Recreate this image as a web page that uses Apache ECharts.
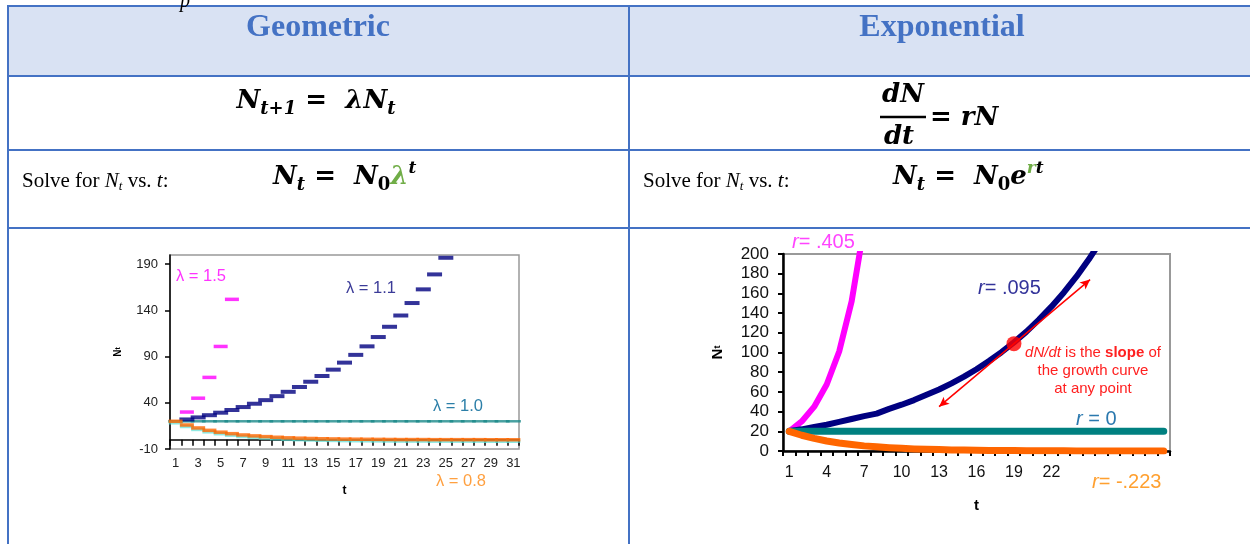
<!DOCTYPE html>
<html>
<head>
<meta charset="utf-8">
<script src="https://cdn.jsdelivr.net/npm/echarts@6/dist/echarts.min.js"></script>
<style>
html, body { margin: 0; padding: 0; background: #fff; }
#main { width: 1250px; height: 544px; }
</style>
</head>
<body>
<div id="main"></div>
<script>
// time steps (both charts)
var tSteps = [1, 2, 3, 4, 5, 6, 7, 8, 9, 10, 11, 12, 13, 14, 15, 16, 17, 18, 19, 20, 21, 22, 23, 24, 25, 26, 27, 28, 29, 30, 31];

// geometric chart (dash per step)
var geo15 = [20, 30, 45, 67.5, 101, 152];
var geo11 = [20, 22, 24.2, 26.6, 29.3, 32.2, 35.4, 39, 42.9, 47.2, 51.9, 57.1, 62.8, 69, 75.9, 83.5, 91.9, 101.1, 111.2, 122.3, 134.5, 148, 162.8, 179, 197];
var geo10 = [20, 20, 20, 20, 20, 20, 20, 20, 20, 20, 20, 20, 20, 20, 20, 20, 20, 20, 20, 20, 20, 20, 20, 20, 20, 20, 20, 20, 20, 20, 20];
var geo08 = [20, 16, 12.8, 10.2, 8.2, 6.6, 5.2, 4.2, 3.4, 2.7, 2.1, 1.7, 1.4, 1.1, 0.9, 0.7, 0.6, 0.5, 0.4, 0.3, 0.2, 0.2, 0.2, 0.1, 0.1, 0.1, 0.1, 0.1, 0, 0, 0];
var geoYLabels = [-10, 40, 90, 140, 190];
var geoXLabels = [1, 3, 5, 7, 9, 11, 13, 15, 17, 19, 21, 23, 25, 27, 29, 31];

// exponential chart (continuous curves)
var exp405 = [20, 30, 45, 67.5, 101, 152, 228];
var exp095 = [20, 22, 24.5, 26.6, 29.5, 32.5, 35.4, 38, 42.8, 47, 51.7, 57, 62.5, 68.7, 75.5, 83, 91.3, 100.3, 110.3, 121.2, 133.3, 146.5, 161, 177, 194.6, 214];
var exp0 = [20, 20, 20, 20, 20, 20, 20, 20, 20, 20, 20, 20, 20, 20, 20, 20, 20, 20, 20, 20, 20, 20, 20, 20, 20, 20, 20, 20, 20, 20, 20];
var expNeg = [20, 16, 12.8, 10.2, 8.2, 6.6, 5.2, 4.2, 3.4, 2.7, 2.1, 1.7, 1.4, 1.1, 0.9, 0.7, 0.6, 0.5, 0.4, 0.3, 0.2, 0.2, 0.2, 0.1, 0.1, 0.1, 0.1, 0.1, 0, 0, 0];
var expXLabels = [1, 4, 7, 10, 13, 16, 19, 22];
var slopePoint = [19, 109];
var slopeArrow = [[13, 45], [25.1, 174]];

var stepTicks = tSteps.map(function (t) { return t - 0.5; }).concat([31.5]);

function pairs(vals) {
    return vals.map(function (v, i) { return [tSteps[i], v]; });
}

var chart = echarts.init(document.getElementById('main'), null, { renderer: 'canvas' });

var BLUE = '#4472C4';
var sans = 'Liberation Sans, Arial, sans-serif';
var serif = 'Liberation Serif, Times New Roman, serif';
var math = 'DejaVu Serif, serif';

// rich styles for the formulas
var mathRich = {
    m: { fontFamily: math, fontWeight: 'bold', fontStyle: 'italic', fontSize: 26, lineHeight: 34, fill: '#000' },
    u: { fontFamily: math, fontWeight: 'bold', fontSize: 26, lineHeight: 34, fill: '#000' },
    s: { fontFamily: math, fontWeight: 'bold', fontStyle: 'italic', fontSize: 18, lineHeight: 14, verticalAlign: 'bottom', fill: '#000' },
    s0: { fontFamily: math, fontWeight: 'bold', fontSize: 18, lineHeight: 14, verticalAlign: 'bottom', fill: '#000' },
    sup: { fontFamily: math, fontWeight: 'bold', fontStyle: 'italic', fontSize: 17, lineHeight: 16, verticalAlign: 'top', fill: '#000' },
    gsup: { fontFamily: math, fontWeight: 'bold', fontStyle: 'italic', fontSize: 17, lineHeight: 16, verticalAlign: 'top', fill: '#70AD47' },
    g: { fontFamily: math, fontWeight: 'bold', fontStyle: 'italic', fontSize: 26, lineHeight: 34, fill: '#70AD47' }
};
var solveRich = {
    r: { fontFamily: serif, fontSize: 21, lineHeight: 24, fill: '#000' },
    i: { fontFamily: serif, fontStyle: 'italic', fontSize: 21, lineHeight: 24, fill: '#000' },
    is: { fontFamily: serif, fontStyle: 'italic', fontSize: 13, lineHeight: 11, verticalAlign: 'bottom', fill: '#000' }
};

function hline(y) {
    return { type: 'line', shape: { x1: 7, y1: y, x2: 1250, y2: y }, style: { stroke: BLUE, lineWidth: 2 }, z: 5 };
}
function vline(x) {
    return { type: 'line', shape: { x1: x, y1: 5, x2: x, y2: 544 }, style: { stroke: BLUE, lineWidth: 2 }, z: 5 };
}
function label(x, y, text, color, size, rich, align) {
    return {
        type: 'text', x: x, y: y, z: 20,
        style: {
            text: text, fill: color, fontFamily: sans, fontSize: size,
            align: align || 'left', verticalAlign: 'middle', rich: rich || {}
        }
    };
}
function italicR(color, size) {
    return { i: { fontStyle: 'italic', fontFamily: sans, fontSize: size, fill: color } };
}

var slopeNote = label(1093, 371, '{i|dN/dt} is the {b|slope} of\nthe growth curve\nat any point', '#FF2020', 15, {
    i: { fontStyle: 'italic', fontFamily: sans, fontSize: 15, fill: '#FF2020', lineHeight: 18 },
    b: { fontWeight: 'bold', fontFamily: sans, fontSize: 15, fill: '#FF2020', lineHeight: 18 }
}, 'center');
slopeNote.style.lineHeight = 18;

var graphics = [
    { type: 'rect', shape: { x: 8, y: 6, width: 1242, height: 70 }, style: { fill: '#D9E2F3' }, z: 1 },
    { type: 'text', x: 180, y: -8, style: { text: 'p', fontFamily: serif, fontStyle: 'italic', fontSize: 20, fill: '#000' }, z: 6 },
    hline(6), hline(76), hline(150), hline(228), vline(8), vline(629),
    { type: 'text', x: 318, y: 28, z: 6, style: { text: 'Geometric', fontFamily: serif, fontWeight: 'bold', fontSize: 32, fill: BLUE, align: 'center', verticalAlign: 'middle' } },
    { type: 'text', x: 942, y: 28, z: 6, style: { text: 'Exponential', fontFamily: serif, fontWeight: 'bold', fontSize: 32, fill: BLUE, align: 'center', verticalAlign: 'middle' } },
    // row 2
    { type: 'text', x: 316, y: 101, z: 6, style: { text: '{m|N}{s|t+1}{u| = }{m| λN}{s|t}', rich: mathRich, align: 'center', verticalAlign: 'middle' } },
    { type: 'text', x: 903, y: 95, z: 6, style: { text: '{m|dN}', rich: mathRich, align: 'center', verticalAlign: 'middle' } },
    { type: 'line', shape: { x1: 880, y1: 117, x2: 926, y2: 117 }, style: { stroke: '#000', lineWidth: 2.5 }, z: 6 },
    { type: 'text', x: 899, y: 137, z: 6, style: { text: '{m|dt}', rich: mathRich, align: 'center', verticalAlign: 'middle' } },
    { type: 'text', x: 930, y: 118, z: 6, style: { text: '{u|=}{m| rN}', rich: mathRich, align: 'left', verticalAlign: 'middle' } },
    // row 3
    { type: 'text', x: 22, y: 181, z: 6, style: { text: '{r|Solve for }{i|N}{is|t}{r| vs. }{i|t}{r|:}', rich: solveRich, align: 'left', verticalAlign: 'middle' } },
    { type: 'text', x: 643, y: 181, z: 6, style: { text: '{r|Solve for }{i|N}{is|t}{r| vs. }{i|t}{r|:}', rich: solveRich, align: 'left', verticalAlign: 'middle' } },
    { type: 'text', x: 273, y: 177, z: 6, style: { text: '{m|N}{s|t}{u| =  }{m|N}{s0|0}{g|λ}{sup|t}', rich: mathRich, align: 'left', verticalAlign: 'middle' } },
    { type: 'text', x: 893, y: 177, z: 6, style: { text: '{m|N}{s|t}{u| =  }{m|N}{s0|0}{m|e}{gsup|r}{sup|t}', rich: mathRich, align: 'left', verticalAlign: 'middle' } },
    // geometric chart labels
    label(176, 276, 'λ = 1.5', '#FF33FF', 16.5),
    label(346, 288, 'λ = 1.1', '#3B3B98', 16.5),
    label(433, 406, 'λ = 1.0', '#2C7FA8', 16.5),
    label(436, 481, 'λ = 0.8', '#FFA040', 16.5),
    // exponential chart labels
    label(792, 242, '{i|r}= .405', '#FF44FF', 20, italicR('#FF44FF', 20)),
    label(978, 288, '{i|r}= .095', '#33339A', 20, italicR('#33339A', 20)),
    label(1076, 419, '{i|r} = 0', '#2A78AE', 20, italicR('#2A78AE', 20)),
    label(1092, 482, '{i|r}= -.223', '#FFA030', 20, italicR('#FFA030', 20)),
    slopeNote
];

var option = {
    animation: false,
    backgroundColor: '#fff',
    graphic: graphics,
    grid: [
        { left: 170, top: 255, width: 349, height: 194, show: true, borderColor: '#999', borderWidth: 1.5, backgroundColor: '#fff' },
        { left: 783, top: 254, width: 387, height: 197, show: true, borderColor: '#999', borderWidth: 2, backgroundColor: '#fff' }
    ],
    xAxis: [
        {
            type: 'value', gridIndex: 0, min: 0.5, max: 31.5,
            axisLine: { onZero: true, lineStyle: { color: '#000', width: 1.5 } },
            axisTick: { show: true, customValues: stepTicks, length: 6, lineStyle: { color: '#000', width: 1.5 } },
            axisLabel: { customValues: geoXLabels, margin: 8, color: '#222', fontSize: 13, fontFamily: sans },
            splitLine: { show: false },
            name: 't', nameLocation: 'middle', nameGap: 36,
            nameTextStyle: { fontWeight: 'bold', fontSize: 12, color: '#000', fontFamily: sans }
        },
        {
            type: 'value', gridIndex: 1, min: 0.5, max: 31.5,
            axisLine: { lineStyle: { color: '#000', width: 2.5 } },
            axisTick: { show: true, customValues: stepTicks, length: 5, lineStyle: { color: '#000', width: 2 } },
            axisLabel: { customValues: expXLabels, margin: 14, color: '#111', fontSize: 16, fontFamily: sans },
            splitLine: { show: false },
            name: 't', nameLocation: 'middle', nameGap: 47,
            nameTextStyle: { fontWeight: 'bold', fontSize: 15, color: '#000', fontFamily: sans }
        }
    ],
    yAxis: [
        {
            type: 'value', gridIndex: 0, min: -10, max: 200,
            axisLine: { show: true, lineStyle: { color: '#000', width: 1.5 } },
            axisTick: { show: true, customValues: geoYLabels, length: 5, lineStyle: { color: '#000', width: 1.5 } },
            axisLabel: { customValues: geoYLabels, margin: 12, color: '#222', fontSize: 13, fontFamily: sans },
            splitLine: { show: false },
            name: '{n|N}{t|t}', nameLocation: 'middle', nameGap: 47, nameRotate: 90,
            nameTextStyle: { rich: { n: { fontWeight: 'bold', fontSize: 10, fontFamily: sans }, t: { fontWeight: 'bold', fontSize: 7, fontFamily: sans } } }
        },
        {
            type: 'value', gridIndex: 1, min: 0, max: 200, interval: 20,
            axisLine: { show: true, lineStyle: { color: '#000', width: 2.5 } },
            axisTick: { show: true, length: 5, lineStyle: { color: '#000', width: 2 } },
            axisLabel: { margin: 14, color: '#111', fontSize: 17, fontFamily: sans },
            splitLine: { show: false },
            name: '{n|N}{t|t}', nameLocation: 'middle', nameGap: 58, nameRotate: 90,
            nameTextStyle: { rich: { n: { fontWeight: 'bold', fontSize: 15, fontFamily: sans }, t: { fontWeight: 'bold', fontSize: 9, fontFamily: sans } } }
        }
    ],
    series: [
        // geometric
        { name: 'λ = 1.0', type: 'scatter', xAxisIndex: 0, yAxisIndex: 0, symbol: 'rect', symbolSize: [15, 2.5],
          itemStyle: { color: '#1A8A8A' }, data: pairs(geo10) },
        { name: 'λ = 1.1', type: 'scatter', xAxisIndex: 0, yAxisIndex: 0, symbol: 'rect', symbolSize: [15, 4],
          itemStyle: { color: '#000080' }, data: pairs(geo11).slice(1) },
        { name: 'λ = 1.5', type: 'scatter', xAxisIndex: 0, yAxisIndex: 0, symbol: 'rect', symbolSize: [14, 3.5],
          itemStyle: { color: '#FF00FF' }, data: pairs(geo15).slice(1) },
        { name: 'λ = 0.8', type: 'scatter', xAxisIndex: 0, yAxisIndex: 0, symbol: 'rect', symbolSize: [14, 3.5],
          itemStyle: { color: '#FF6600', shadowColor: 'rgba(80,220,210,0.8)', shadowOffsetY: 1.5, shadowBlur: 0 }, data: pairs(geo08) },
        // exponential
        { name: 'r = .405', type: 'line', xAxisIndex: 1, yAxisIndex: 1, symbol: 'none', clip: true,
          lineStyle: { color: '#FF00FF', width: 6, cap: 'round', join: 'round' }, data: pairs(exp405) },
        { name: 'r = .095', type: 'line', xAxisIndex: 1, yAxisIndex: 1, symbol: 'none', clip: true,
          lineStyle: { color: '#000080', width: 6, cap: 'round', join: 'round' }, data: pairs(exp095) },
        { name: 'r = 0', type: 'line', xAxisIndex: 1, yAxisIndex: 1, symbol: 'none',
          lineStyle: { color: '#008080', width: 7, cap: 'round' }, data: pairs(exp0) },
        { name: 'r = -.223', type: 'line', xAxisIndex: 1, yAxisIndex: 1, symbol: 'none',
          lineStyle: { color: '#FF6600', width: 7, cap: 'round', join: 'round' }, data: pairs(expNeg) },
        { name: 'slope', type: 'scatter', xAxisIndex: 1, yAxisIndex: 1, symbol: 'circle', symbolSize: 15, z: 5,
          itemStyle: { color: '#FF0000' }, data: [slopePoint],
          markLine: {
              silent: true, symbol: ['arrow', 'arrow'], symbolSize: [7, 10], label: { show: false },
              lineStyle: { color: '#FF0000', width: 1.5, type: 'solid' },
              data: [[{ coord: slopeArrow[0] }, { coord: slopeArrow[1] }]]
          } }
    ]
};

chart.setOption(option);
</script>
</body>
</html>
